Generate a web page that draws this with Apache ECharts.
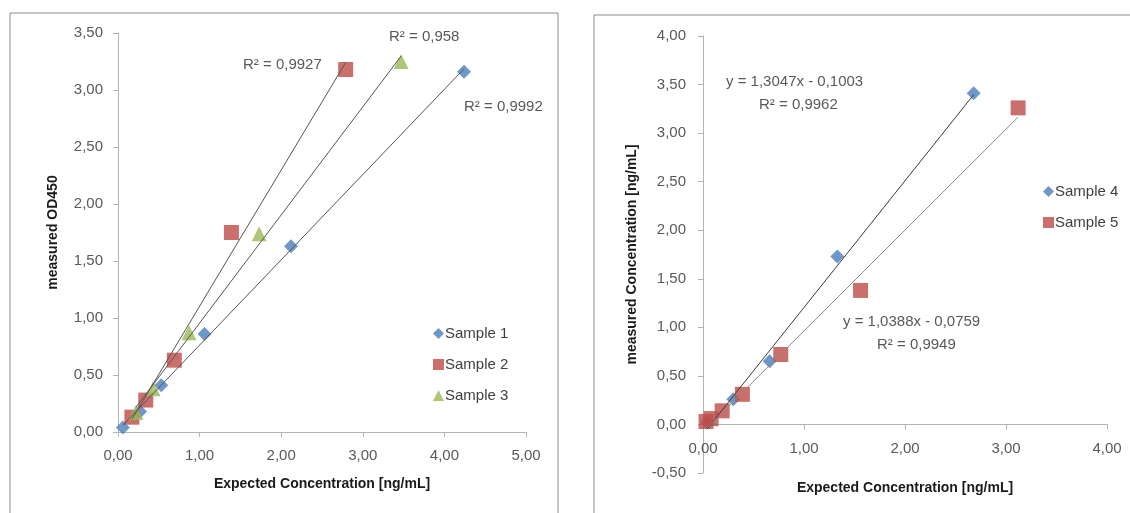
<!DOCTYPE html>
<html>
<head>
<meta charset="utf-8">
<script src="https://cdn.jsdelivr.net/npm/echarts@6/dist/echarts.min.js"></script>
<style>
  html, body { margin: 0; background: #fff; }
  #chart { width: 1130px; height: 513px; }
</style>
</head>
<body>
<div id="chart"></div>
<script>
// left panel: measured OD450 vs expected concentration
const s1x = [0.06, 0.27, 0.53, 1.06, 2.12, 4.24];
const s1y = [0.04, 0.18, 0.41, 0.86, 1.63, 3.16];
const s2x = [0.17, 0.34, 0.69, 1.39, 2.79];
const s2y = [0.13, 0.28, 0.63, 1.75, 3.18];
const s3x = [0.22, 0.43, 0.87, 1.73, 3.47];
const s3y = [0.17, 0.38, 0.87, 1.74, 3.25];
const leftR2 = ['0,9992', '0,9927', '0,958'];

// right panel: measured vs expected concentration
const s4x = [0.04, 0.30, 0.66, 1.33, 2.68];
const s4y = [0.02, 0.26, 0.65, 1.73, 3.41];
const s5x = [0.03, 0.08, 0.19, 0.39, 0.77, 1.56, 3.12];
const s5y = [0.03, 0.06, 0.14, 0.31, 0.72, 1.38, 3.26];
const rightSlope = [1.3047, 1.0388];
const rightIntercept = [-0.1003, -0.0759];
const rightR2 = ['0,9962', '0,9949'];

const BLUE = '#4a7ebb', RED = '#be4b48', GREEN = '#98b954';
const FONT = 'Liberation Sans';
const fmt = v => v.toFixed(2).replace('.', ',');
const fmt4 = v => v.toFixed(4).replace('.', ',');
const zip = (xs, ys) => xs.map((x, i) => [x, ys[i]]);

// least squares fit for the left panel trendlines
function fit(xs, ys) {
  const n = xs.length;
  const mx = xs.reduce((a, b) => a + b, 0) / n;
  const my = ys.reduce((a, b) => a + b, 0) / n;
  let sxy = 0, sxx = 0;
  xs.forEach((x, i) => { sxy += (x - mx) * (ys[i] - my); sxx += (x - mx) * (x - mx); });
  const k = sxy / sxx;
  return [k, my - k * mx];
}
function trend(xs, k, b) {
  const x0 = Math.min(...xs), x1 = Math.max(...xs);
  return [[x0, k * x0 + b], [x1, k * x1 + b]];
}

const axisCommon = {
  type: 'value',
  axisLine: { onZero: false, lineStyle: { color: '#b3b3b3' } },
  axisTick: { show: true, length: 5, lineStyle: { color: '#b3b3b3' } },
  splitLine: { show: false },
  axisLabel: { color: '#595959', fontFamily: FONT, fontSize: 15, formatter: fmt },
  nameLocation: 'middle',
  nameTextStyle: { color: '#1a1a1a', fontFamily: FONT, fontSize: 14, fontWeight: 'bold' }
};
const withLabel = (extra, margin) =>
  Object.assign({}, axisCommon, extra, { axisLabel: Object.assign({}, axisCommon.axisLabel, { margin }) });

function scatter(name, data, symbol, color, size, xi) {
  return { name, type: 'scatter', xAxisIndex: xi, yAxisIndex: xi, data, symbol, symbolSize: size,
    itemStyle: { color }, z: 2 };
}
function line(data, color, xi) {
  return { type: 'line', xAxisIndex: xi, yAxisIndex: xi, data, symbol: 'none', silent: true,
    lineStyle: { color, width: 1 }, z: 3 };
}

const f1 = fit(s1x, s1y), f2 = fit(s2x, s2y), f3 = fit(s3x, s3y);

const txt = (text, x, y) => ({ type: 'text', left: x, top: y,
  style: { text, fill: '#595959', font: '15px "' + FONT + '"', textAlign: 'left' } });

// right grid: x axis sits on y = 0, i.e. half a step above the bottom
const RH = 437;
const zeroShift = RH / 4.5 * 0.5;

const chart = echarts.init(document.getElementById('chart'));
chart.setOption({
  backgroundColor: '#fff',
  animation: false,
  grid: [
    { left: 118, top: 33, width: 408, height: 399, outerBoundsMode: 'none' },
    { left: 703, top: 36, width: 404, height: RH, outerBoundsMode: 'none' }
  ],
  xAxis: [
    withLabel({ gridIndex: 0, min: 0, max: 5, interval: 1,
      name: 'Expected Concentration [ng/mL]', nameGap: 45 }, 16),
    withLabel({ gridIndex: 1, min: 0, max: 4, interval: 1, offset: -zeroShift,
      name: 'Expected Concentration [ng/mL]', nameGap: 57 }, 17)
  ],
  yAxis: [
    withLabel({ gridIndex: 0, min: 0, max: 3.5, interval: 0.5,
      name: 'measured OD450', nameGap: 58 }, 15),
    withLabel({ gridIndex: 1, min: -0.5, max: 4, interval: 0.5,
      name: 'measured Concentration [ng/mL]', nameGap: 64 }, 17)
  ],
  legend: [
    { data: ['Sample 1', 'Sample 2', 'Sample 3'], orient: 'vertical', left: 428, top: 321,
      itemWidth: 11, itemHeight: 11, itemGap: 16,
      textStyle: { color: '#404040', fontFamily: FONT, fontSize: 15, padding: [0, 0, 0, -4] } },
    { data: ['Sample 4', 'Sample 5'], orient: 'vertical', left: 1038, top: 179,
      itemWidth: 11, itemHeight: 11, itemGap: 16,
      textStyle: { color: '#404040', fontFamily: FONT, fontSize: 15, padding: [0, 0, 0, -4] } }
  ],
  series: [
    scatter('Sample 1', zip(s1x, s1y), 'diamond', BLUE, 14, 0),
    scatter('Sample 2', zip(s2x, s2y), 'rect', RED, 15, 0),
    scatter('Sample 3', zip(s3x, s3y), 'triangle', GREEN, 15, 0),
    line(trend(s1x, f1[0], f1[1]), '#555', 0),
    line(trend(s2x, f2[0], f2[1]), '#555', 0),
    line(trend(s3x, f3[0], f3[1]), '#555', 0),
    scatter('Sample 4', zip(s4x, s4y), 'diamond', BLUE, 14, 1),
    scatter('Sample 5', zip(s5x, s5y), 'rect', RED, 15, 1),
    line(trend(s4x, rightSlope[0], rightIntercept[0]), '#3a3a3a', 1),
    line(trend(s5x, rightSlope[1], rightIntercept[1]), '#8a8a8a', 1)
  ],
  graphic: [
    { type: 'rect', shape: { x: 10, y: 13, width: 548, height: 520 }, silent: true,
      style: { fill: 'none', stroke: '#8c8c8c', lineWidth: 1 } },
    { type: 'rect', shape: { x: 594, y: 15, width: 560, height: 520 }, silent: true,
      style: { fill: 'none', stroke: '#8c8c8c', lineWidth: 1 } },
    txt('R² = ' + leftR2[0], 464, 99),
    txt('R² = ' + leftR2[1], 243, 57),
    txt('R² = ' + leftR2[2], 389, 29),
    txt('y = ' + fmt4(rightSlope[0]) + 'x - ' + fmt4(-rightIntercept[0]), 726, 74),
    txt('R² = ' + rightR2[0], 759, 97),
    txt('y = ' + fmt4(rightSlope[1]) + 'x - ' + fmt4(-rightIntercept[1]), 843, 314),
    txt('R² = ' + rightR2[1], 877, 337)
  ]
});
</script>
</body>
</html>
